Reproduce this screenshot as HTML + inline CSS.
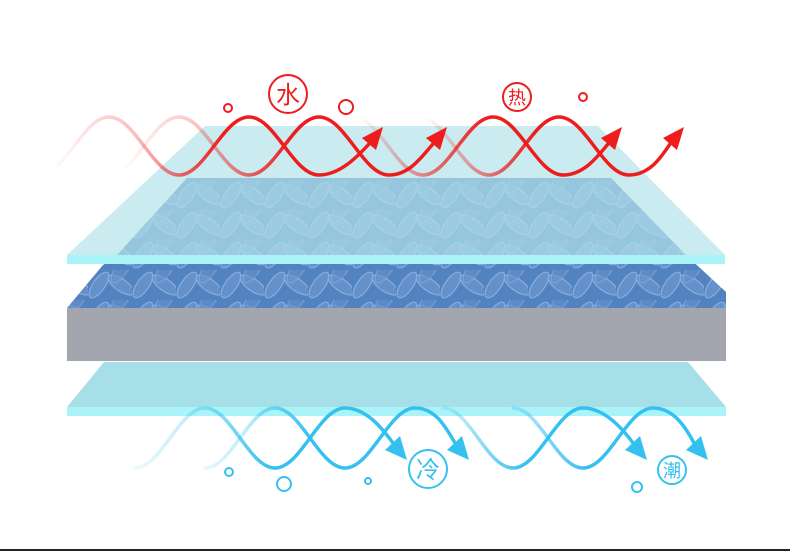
<!DOCTYPE html>
<html><head><meta charset="utf-8"><style>
html,body{margin:0;padding:0;background:#fff;}
svg{display:block;}
text{font-family:"Liberation Sans","Noto Sans CJK SC",sans-serif;}
</style></head><body>
<svg width="790" height="551" viewBox="0 0 790 551" xmlns="http://www.w3.org/2000/svg">
<defs>
<pattern id="weave" width="44" height="30" patternUnits="userSpaceOnUse">
<rect width="44" height="30" fill="#5282c0"/>
<ellipse cx="11" cy="15" rx="15" ry="6" transform="rotate(-55 11 15)" fill="#6690c9" stroke="#86aedc" stroke-width="1.2"/>
<ellipse cx="33" cy="15" rx="15" ry="6" transform="rotate(35 33 15)" fill="#6690c9" stroke="#86aedc" stroke-width="1.2"/>
<ellipse cx="33" cy="0" rx="15" ry="6" transform="rotate(-55 33 0)" fill="#6690c9" stroke="#86aedc" stroke-width="1.2" opacity="0.6"/>
</pattern>
<linearGradient id="fA" gradientUnits="userSpaceOnUse" x1="50" y1="0" x2="225" y2="0"><stop offset="0" stop-color="#ee1c1c" stop-opacity="0"/><stop offset="0.5" stop-color="#ee1c1c" stop-opacity="0.3"/><stop offset="1" stop-color="#ee1c1c"/></linearGradient>
<linearGradient id="fB" gradientUnits="userSpaceOnUse" x1="120" y1="0" x2="290" y2="0"><stop offset="0" stop-color="#ee1c1c" stop-opacity="0"/><stop offset="0.5" stop-color="#ee1c1c" stop-opacity="0.3"/><stop offset="1" stop-color="#ee1c1c"/></linearGradient>
<linearGradient id="fC" gradientUnits="userSpaceOnUse" x1="360" y1="0" x2="485" y2="0"><stop offset="0" stop-color="#ee1c1c" stop-opacity="0"/><stop offset="1" stop-color="#ee1c1c"/></linearGradient>
<linearGradient id="fD" gradientUnits="userSpaceOnUse" x1="425" y1="0" x2="535" y2="0"><stop offset="0" stop-color="#ee1c1c" stop-opacity="0"/><stop offset="1" stop-color="#ee1c1c"/></linearGradient>
<linearGradient id="bE" gradientUnits="userSpaceOnUse" x1="110" y1="0" x2="270" y2="0"><stop offset="0" stop-color="#35c1ef" stop-opacity="0"/><stop offset="0.5" stop-color="#35c1ef" stop-opacity="0.3"/><stop offset="1" stop-color="#35c1ef"/></linearGradient>
<linearGradient id="bF" gradientUnits="userSpaceOnUse" x1="180" y1="0" x2="310" y2="0"><stop offset="0" stop-color="#35c1ef" stop-opacity="0"/><stop offset="0.5" stop-color="#35c1ef" stop-opacity="0.3"/><stop offset="1" stop-color="#35c1ef"/></linearGradient>
<linearGradient id="bG" gradientUnits="userSpaceOnUse" x1="425" y1="0" x2="525" y2="0"><stop offset="0" stop-color="#35c1ef" stop-opacity="0"/><stop offset="1" stop-color="#35c1ef"/></linearGradient>
<linearGradient id="bH" gradientUnits="userSpaceOnUse" x1="485" y1="0" x2="585" y2="0"><stop offset="0" stop-color="#35c1ef" stop-opacity="0"/><stop offset="1" stop-color="#35c1ef"/></linearGradient>
</defs>

<polygon points="187,178 611,178 686,255 726,292 726,308 67,308 103,265 117,255" fill="url(#weave)"/>
<polygon points="205,126 598,126 725,255 67,255" fill="#b4e3e9" fill-opacity="0.7"/>
<rect x="67" y="255" width="658" height="9" fill="#aaf3f8"/>
<rect x="67" y="308" width="659" height="53" fill="#a3a6ae"/>
<polygon points="104,362 688,362 726,407 67,407" fill="#a6dfe7"/>
<rect x="67" y="407" width="659" height="9" fill="#aaf3f8"/>

<g fill="none" stroke-width="3.5" stroke-linecap="round">
<path stroke="url(#fA)" d="M39 175 C65 175 83 117 109 117 C135 117 153 175 179 175 C205 175 223 117 249 117 C275 117 293 175 319 175 C340 175 358 156 369 144"/>
<path stroke="url(#fB)" d="M109 175 C135 175 153 117 179 117 C205 117 223 175 249 175 C275 175 293 117 319 117 C345 117 363 175 389 175 C410 175 422 156 433 144"/>
<path stroke="url(#fC)" d="M353 117 C379 117 397 175 423 175 C449 175 467 117 493 117 C519 117 537 175 563 175 C584 175 598 156 608 144"/>
<path stroke="url(#fD)" d="M419 117 C445 117 463 175 489 175 C515 175 533 117 559 117 C585 117 603 175 629 175 C650 175 662 156 670 144"/>
</g>
<g fill="#ee1c1c">
<polygon points="383,127 376,150 362,138"/>
<polygon points="447,127 440,150 426,138"/>
<polygon points="622,127 615,150 601,138"/>
<polygon points="684,127 677,150 663,138"/>
</g>
<g fill="none" stroke="#ee1c1c" stroke-width="2">
<circle cx="288" cy="94" r="19"/>
<circle cx="517" cy="97" r="14"/>
<circle cx="228" cy="108" r="4"/>
<circle cx="346" cy="107" r="7"/>
<circle cx="583" cy="97" r="4"/>
</g>
<text x="288" y="103" font-size="24" fill="#ee1c1c" text-anchor="middle">水</text>
<text x="517" y="104" font-size="18" fill="#ee1c1c" text-anchor="middle">热</text>

<g fill="none" stroke-width="3.5" stroke-linecap="round">
<path stroke="url(#bE)" d="M135 468 C161 468 179 408 205 408 C231 408 249 468 275 468 C301 468 319 408 345 408 C366 408 382 428 393 443"/>
<path stroke="url(#bF)" d="M205 468 C231 468 249 408 275 408 C301 408 319 468 345 468 C371 468 389 408 415 408 C436 408 446 428 455 443"/>
<path stroke="url(#bG)" d="M443 408 C469 408 487 468 513 468 C539 468 557 408 583 408 C604 408 622 428 633 443"/>
<path stroke="url(#bH)" d="M513 408 C539 408 557 468 583 468 C609 468 627 408 653 408 C674 408 686 428 694 443"/>
</g>
<g fill="#35c1ef">
<polygon points="407,460 385,450 400,436"/>
<polygon points="469,460 447,450 462,436"/>
<polygon points="647,460 625,450 640,436"/>
<polygon points="708,460 686,450 701,436"/>
</g>
<g fill="none" stroke="#35c1ef" stroke-width="2">
<circle cx="428" cy="469" r="19"/>
<circle cx="672" cy="470" r="14"/>
<circle cx="229" cy="472" r="4"/>
<circle cx="284" cy="484" r="7"/>
<circle cx="368" cy="481" r="3"/>
<circle cx="637" cy="487" r="5"/>
</g>
<text x="428" y="478" font-size="24" fill="#35c1ef" text-anchor="middle">冷</text>
<text x="672" y="477" font-size="18" fill="#35c1ef" text-anchor="middle">潮</text>

<rect x="0" y="549" width="790" height="2" fill="#222"/>
</svg>
</body></html>
